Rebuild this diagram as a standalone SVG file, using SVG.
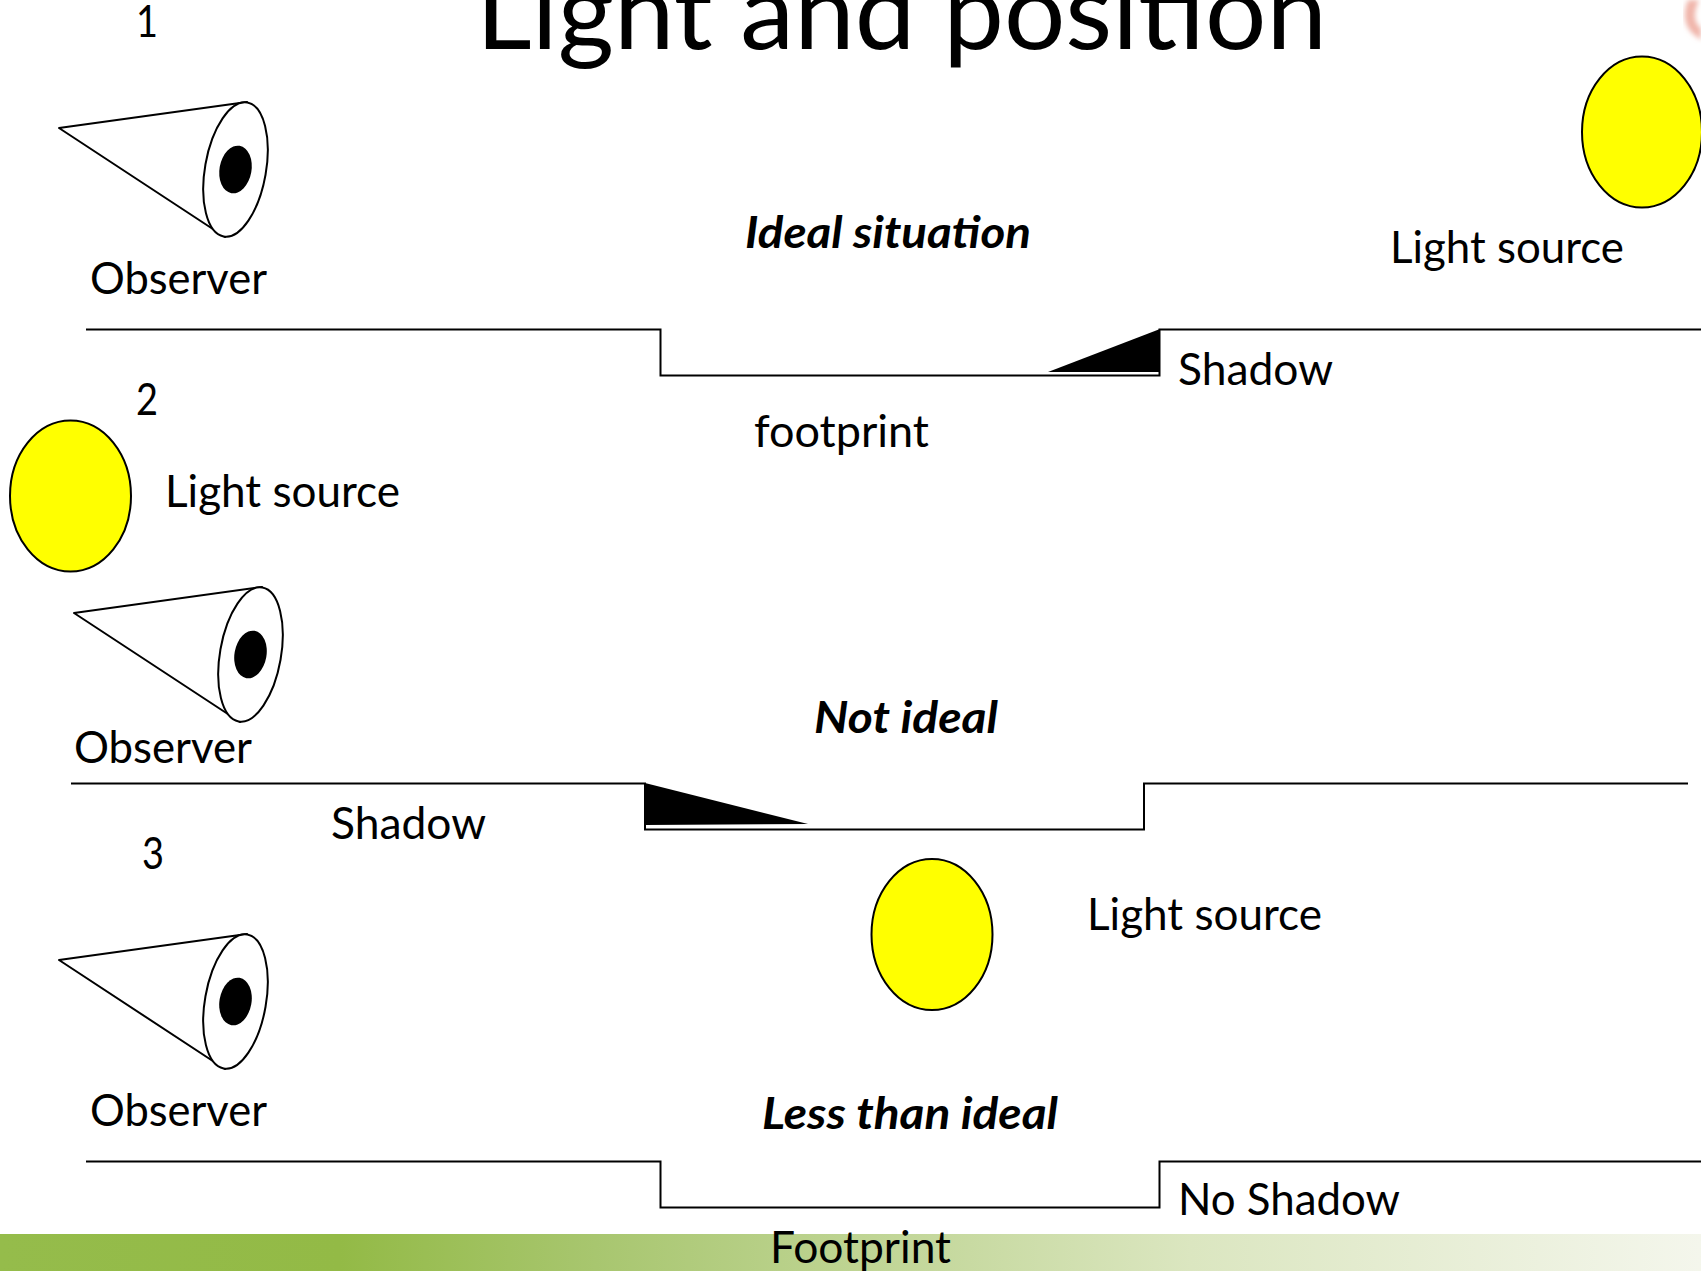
<svg xmlns="http://www.w3.org/2000/svg" width="1701" height="1271" viewBox="0 0 1701 1271">
<style>
text{font-family:"Lato","Carlito","Open Sans",sans-serif;fill:#000;font-size:44px}
.h{font-weight:700;font-style:italic}
.c{fill:#fff;stroke:#000;stroke-width:2}
.s{fill:#ff0;stroke:#000;stroke-width:2}
.g{fill:none;stroke:#000;stroke-width:2}
</style>
<defs>
<linearGradient id="bar" x1="0" x2="1" y1="0" y2="0"><stop offset="0" stop-color="#95bc4b"/><stop offset=".2" stop-color="#93ba46"/><stop offset=".35" stop-color="#a8c66f"/><stop offset=".7" stop-color="#dbe6c0"/><stop offset="1" stop-color="#f4f6ec"/></linearGradient>
<g id="eye"><path class="c" d="M59 128L247 102L225 237Z" stroke-linejoin="round"/><ellipse class="c" cx="235.500" cy="169.500" rx="30.500" ry="68" transform="rotate(10 235.500 169.500)"/><ellipse cx="235.500" cy="169.500" rx="16" ry="24" transform="rotate(10 235.500 169.500)"/></g>
<filter id="bl"><feGaussianBlur stdDeviation="2.500"/></filter>
</defs>
<rect width="1701" height="1271" fill="#fff"/>
<rect id="footer" y="1234" width="1701" height="37" fill="url(#bar)"/>
<path id="deco" d="M1688 0Q1680 20 1692 33L1701 40V28Q1690 20 1699 0Z" fill="#f0b5aa" filter="url(#bl)"/>
<text id="title" x="476" y="49" style="font-size:107px" textLength="851" lengthAdjust="spacingAndGlyphs">Light and position</text>
<g id="connectors">
<path class="g" d="M86 329.500H660.500V375.500H1159.500V329.500H1701"/>
<path class="g" d="M71 783.500H645V829.500H1144V783.500H1688"/>
<path class="g" d="M86 1161.500H660.500V1207.500H1159.500V1161.500H1701"/>
</g>
<path id="shadow1" d="M1160 329L1160 372L1048 372Z"/>
<path id="shadow2" d="M645 783L645 825L808 824Z"/>
<g id="eye1"><use href="#eye"/></g>
<g id="eye2"><use href="#eye" x="15" y="485"/></g>
<g id="eye3"><use href="#eye" y="832"/></g>
<g id="sun1"><ellipse class="s" cx="1642" cy="132" rx="60" ry="75.500"/></g>
<g id="sun2"><ellipse class="s" cx="70.500" cy="496" rx="60.500" ry="75.500"/></g>
<g id="sun3"><ellipse class="s" cx="932" cy="934.500" rx="60.500" ry="75.500"/></g>
<text x="136" y="37" textLength="22" lengthAdjust="spacingAndGlyphs">1</text>
<text x="90" y="294" textLength="177" lengthAdjust="spacingAndGlyphs">Observer</text>
<text x="1390" y="263" textLength="234" lengthAdjust="spacingAndGlyphs">Light source</text>
<text class="h" x="745" y="248" textLength="286" lengthAdjust="spacingAndGlyphs">Ideal situation</text>
<text x="1178" y="385" textLength="155" lengthAdjust="spacingAndGlyphs">Shadow</text>
<text x="754" y="447" textLength="175" lengthAdjust="spacingAndGlyphs">footprint</text>
<text x="136" y="415" textLength="22" lengthAdjust="spacingAndGlyphs">2</text>
<text x="165" y="507" textLength="235" lengthAdjust="spacingAndGlyphs">Light source</text>
<text x="74" y="763" textLength="178" lengthAdjust="spacingAndGlyphs">Observer</text>
<text class="h" x="814" y="733" textLength="184" lengthAdjust="spacingAndGlyphs">Not ideal</text>
<text x="331" y="839" textLength="155" lengthAdjust="spacingAndGlyphs">Shadow</text>
<text x="142" y="869" textLength="22" lengthAdjust="spacingAndGlyphs">3</text>
<text x="1087" y="930" textLength="235" lengthAdjust="spacingAndGlyphs">Light source</text>
<text x="90" y="1126" textLength="177" lengthAdjust="spacingAndGlyphs">Observer</text>
<text class="h" x="762" y="1129" textLength="296" lengthAdjust="spacingAndGlyphs">Less than ideal</text>
<text x="1178" y="1215" textLength="222" lengthAdjust="spacingAndGlyphs">No Shadow</text>
<text x="770" y="1263" textLength="181" lengthAdjust="spacingAndGlyphs">Footprint</text>
</svg>
